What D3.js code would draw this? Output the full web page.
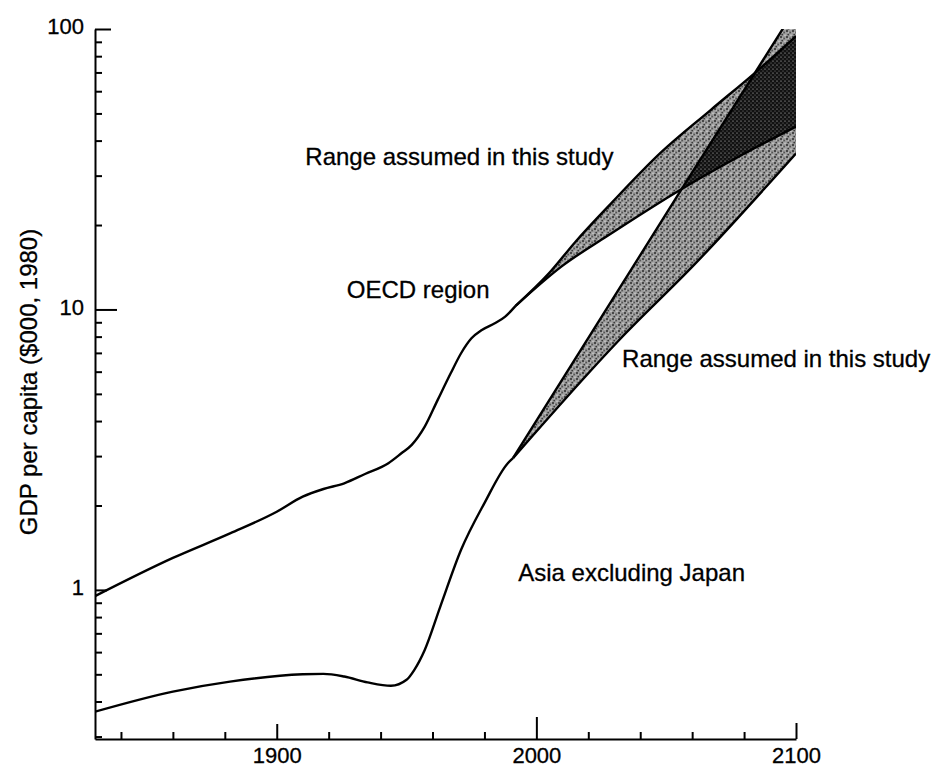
<!DOCTYPE html>
<html>
<head>
<meta charset="utf-8">
<script src="https://cdn.jsdelivr.net/npm/d3@7"></script>
<style>
  body { margin: 0; background: #fff; }
  svg { display: block; font-family: "Liberation Sans", Arial, Helvetica, sans-serif; }
</style>
</head>
<body>
<svg id="chart" width="938" height="769"></svg>
<script>
// history (single curves)
const oecdYears = [1830, 1860, 1882, 1900, 1910, 1918, 1926, 1934, 1943, 1948, 1952, 1957, 1962, 1967, 1971, 1975, 1979, 1984, 1988, 1992]
const oecdGdp   = [0.95, 1.30, 1.59, 1.90, 2.15, 2.29, 2.40, 2.59, 2.83, 3.07, 3.29, 3.82, 4.76, 5.92, 6.98, 7.89, 8.45, 8.93, 9.43, 10.3]

const asiaYears = [1830, 1860, 1882, 1910, 1918, 1926, 1935, 1944, 1950, 1953, 1957, 1963, 1971, 1980, 1989, 1991]
const asiaGdp   = [0.368, 0.434, 0.471, 0.500, 0.502, 0.491, 0.468, 0.455, 0.478, 0.519, 0.611, 0.872, 1.39, 2.04, 2.83, 2.95]

// projected ranges ("Range assumed in this study")
const oecdHighYears = [1992, 2005, 2015, 2029, 2048, 2067, 2085, 2100]
const oecdHighGdp   = [10.3, 13.5, 17.4, 24.0, 36.3, 51.3, 70.8, 94.4]
const oecdLowYears  = [1992, 2010, 2027, 2056, 2080, 2100]
const oecdLowGdp    = [10.3, 14.3, 18.2, 26.9, 35.9, 44.9]

const asiaHighYears = [1991, 2056, 2086, 2100]
const asiaHighGdp   = [2.95, 26.9, 74.1, 119]
const asiaLowYears  = [1991, 2032, 2061, 2100]
const asiaLowGdp    = [2.95, 7.8, 14.5, 36]

// axes
const xMajorTicks = [1900, 2000, 2100]
const xMinorTicks = [1840, 1860, 1880, 1920, 1940, 1960, 1980, 2020, 2040, 2060, 2080]
const yMajorTicks = [1, 10, 100]
const yMinorTicks = [0.3, 0.4, 0.5, 0.6, 0.7, 0.8, 0.9, 2, 3, 4, 5, 6, 7, 8, 9, 20, 30, 40, 50, 60, 70, 80, 90]
const yTitle = 'GDP per capita ($000, 1980)'

// annotations, anchored in data space
const labelText  = ['Range assumed in this study', 'OECD region', 'Range assumed in this study', 'Asia excluding Japan']
const labelYear  = [1911, 1927, 2033, 1993]
const labelValue = [32.8, 11.0, 6.24, 1.076]

const zip = (xs, ys) => xs.map((d, i) => [d, ys[i]])

const svg = d3.select('#chart')
const margin = ({ top: 29, right: 142, bottom: 30, left: 95 })
const width = 938, height = 769

const x = d3.scaleLinear()
    .domain([1830, 2100])
    .range([margin.left, width - margin.right])
const y = d3.scaleLog()
    .domain([0.294, 100])
    .range([height - margin.bottom, margin.top])

const line = d3.line()
    .x(d => x(d[0]))
    .y(d => y(d[1]))
    .curve(d3.curveMonotoneX)

const band = (hi, lo) => line(hi) + line(lo.slice().reverse()).replace(/^M/, 'L') + 'Z'

const oecdHigh = zip(oecdHighYears, oecdHighGdp)
const oecdLow = zip(oecdLowYears, oecdLowGdp)
const asiaHigh = zip(asiaHighYears, asiaHighGdp)
const asiaLow = zip(asiaLowYears, asiaLowGdp)

// stipple textures
const defs = svg.append('defs')
const light = defs.append('pattern')
    .attr('id', 'light').attr('patternUnits', 'userSpaceOnUse')
    .attr('width', 6).attr('height', 6)
light.append('rect').attr('width', 6).attr('height', 6).attr('fill', '#9c9c9c')
light.append('circle').attr('cx', 1).attr('cy', 1).attr('r', 1).attr('fill', '#2a2a2a')
light.append('circle').attr('cx', 4).attr('cy', 2.5).attr('r', 0.9).attr('fill', '#444')
light.append('circle').attr('cx', 2.2).attr('cy', 4.6).attr('r', 0.9).attr('fill', '#3a3a3a')
light.append('circle').attr('cx', 5).attr('cy', 5.2).attr('r', 0.6).attr('fill', '#eee')
light.append('circle').attr('cx', 2.8).attr('cy', 2.2).attr('r', 0.5).attr('fill', '#ddd')

const dark = defs.append('pattern')
    .attr('id', 'dark').attr('patternUnits', 'userSpaceOnUse')
    .attr('width', 4).attr('height', 4)
dark.append('rect').attr('width', 4).attr('height', 4).attr('fill', '#111')
dark.append('circle').attr('cx', 1).attr('cy', 1).attr('r', 0.6).attr('fill', '#d0d0d0')
dark.append('circle').attr('cx', 3).attr('cy', 3).attr('r', 0.5).attr('fill', '#999')

defs.append('clipPath').attr('id', 'plot')
    .append('rect')
    .attr('x', margin.left).attr('y', margin.top)
    .attr('width', width - margin.left - margin.right)
    .attr('height', height - margin.top - margin.bottom)
defs.append('clipPath').attr('id', 'oecd-band')
    .append('path').attr('d', band(oecdHigh, oecdLow))

const plot = svg.append('g').attr('clip-path', 'url(#plot)')

plot.append('path').attr('d', band(oecdHigh, oecdLow)).attr('fill', 'url(#light)')
plot.append('path').attr('d', band(asiaHigh, asiaLow)).attr('fill', 'url(#light)')
plot.append('g').attr('clip-path', 'url(#oecd-band)')
    .append('path').attr('d', band(asiaHigh, asiaLow)).attr('fill', 'url(#dark)')

const curves = [
    zip(oecdYears, oecdGdp), oecdHigh, oecdLow,
    zip(asiaYears, asiaGdp), asiaHigh, asiaLow
]
plot.selectAll('path.curve')
    .data(curves)
    .join('path')
    .attr('class', 'curve')
    .attr('fill', 'none')
    .attr('stroke', '#000')
    .attr('stroke-width', 2.4)
    .attr('stroke-linejoin', 'round')
    .attr('d', line)

// x axis
const axisY = height - margin.bottom
const xLen = { 1900: 15, 2000: 22, 2100: 16 }
svg.append('g')
    .attr('transform', `translate(0,${axisY})`)
    .call(d3.axisBottom(x).tickValues(xMinorTicks).tickSize(-7).tickSizeOuter(0).tickFormat(''))
svg.append('g')
    .attr('transform', `translate(0,${axisY})`)
    .call(d3.axisBottom(x).tickValues(xMajorTicks).tickSize(-7).tickFormat(''))
    .call(g => g.select('.domain').remove())
    .call(g => g.selectAll('.tick line').attr('y2', d => -xLen[d]))
svg.append('g')
    .attr('transform', `translate(0,${axisY})`)
    .call(d3.axisBottom(x).tickValues(xMajorTicks).tickSize(0).tickPadding(8).tickFormat(d3.format('d')))
    .call(g => g.select('.domain').remove())
    .call(g => g.selectAll('text').attr('font-size', 22).attr('fill', '#000'))

// y axis
const yLen = { 1: 12, 10: 22, 100: 16 }
svg.append('g')
    .attr('transform', `translate(${margin.left},0)`)
    .call(d3.axisLeft(y).tickValues(yMinorTicks).tickSize(-7).tickSizeOuter(0).tickFormat(''))
svg.append('g')
    .attr('transform', `translate(${margin.left},0)`)
    .call(d3.axisLeft(y).tickValues(yMajorTicks).tickSize(-7).tickPadding(11).tickFormat(d3.format('d')))
    .call(g => g.select('.domain').remove())
    .call(g => g.selectAll('.tick line').attr('x2', d => yLen[d]))
    .call(g => g.selectAll('text').attr('font-size', 22).attr('fill', '#000').attr('dy', '0.22em'))

svg.selectAll('.domain, .tick line').attr('stroke', '#000').attr('stroke-width', 2)
svg.selectAll('.tick text').attr('stroke', '#000').attr('stroke-width', 0.3)

svg.append('text')
    .attr('transform', 'rotate(-90)')
    .attr('x', -382)
    .attr('y', 37)
    .attr('text-anchor', 'middle')
    .attr('font-size', 24)
    .attr('stroke', '#000')
    .attr('stroke-width', 0.3)
    .text(yTitle)

svg.append('g')
    .selectAll('text')
    .data(labelText)
    .join('text')
    .attr('x', (d, i) => x(labelYear[i]))
    .attr('y', (d, i) => y(labelValue[i]))
    .attr('font-size', 24)
    .attr('stroke', '#000')
    .attr('stroke-width', 0.3)
    .text(d => d)
</script>
</body>
</html>
